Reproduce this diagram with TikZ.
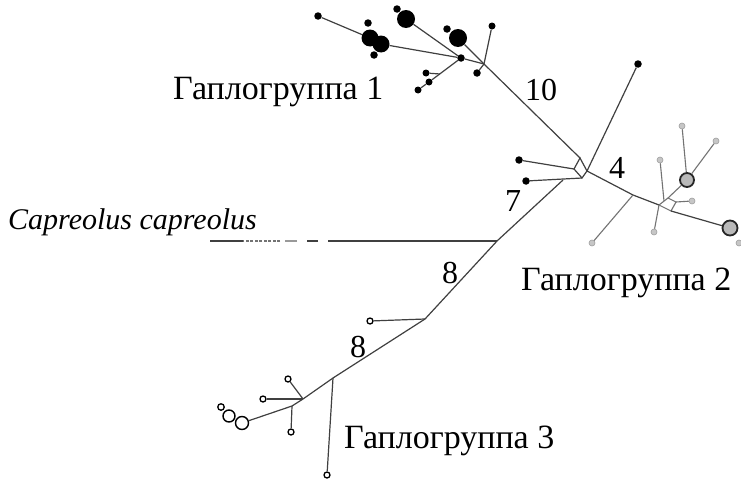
\documentclass[tikz,border=0pt]{standalone}
\usepackage{fontspec}
\setmainfont{Liberation Serif}
\begin{document}
\begin{tikzpicture}[x=1pt,y=-1pt,
  ln/.style={draw=black!75,line width=1.2pt},
  lng/.style={draw=black!55,line width=1.1pt},
  bd/.style={circle,fill=black,inner sep=0pt,minimum size=7.5pt},
  bD/.style={circle,fill=black,inner sep=0pt,minimum size=17pt},
  gd/.style={circle,fill=gray!45,draw=gray!75,line width=0.6pt,inner sep=0pt,minimum size=6pt},
  gD/.style={circle,fill=gray!55,draw=black!85,line width=1.8pt,inner sep=0pt,minimum size=14pt},
  wd/.style={circle,fill=white,draw=black,line width=1.3pt,inner sep=0pt,minimum size=6pt},
  wD/.style={circle,fill=white,draw=black,line width=1.4pt,inner sep=0pt,minimum size=12pt},
  lbl/.style={anchor=base west,inner sep=0pt,font=\fontsize{34}{36}\selectfont},
  lblc/.style={anchor=base west,inner sep=0pt,font=\fontsize{30}{32}\selectfont\itshape},
  num/.style={anchor=base,inner sep=0pt,font=\fontsize{32}{34}\selectfont}]
\useasboundingbox[fill=white] (0,0) rectangle (741,479);

% ---------- Haplogroup 1 ----------
\coordinate (jm) at (484,64);
\coordinate (jb) at (440,74);
\node[bd] (a1) at (318,16) {};
\node[bD] (a2) at (370,38) {};
\node[bD] (a3) at (381,44) {};
\node[bd] (a4) at (368,23) {};
\node[bd] (a5) at (374,55) {};
\node[bD,minimum size=18pt] (a6) at (406,19) {};
\node[bd] (a7) at (397,9) {};
\node[bD,minimum size=18pt] (a8) at (458,38) {};
\node[bd] (a9) at (447,29) {};
\node[bd] (h1) at (461,58) {};
\node[bd,minimum size=7pt] (a10) at (492,26) {};
\node[bd] (a11) at (477,73) {};
\node[bd,minimum size=7pt] (a12) at (426,73) {};
\node[bd,minimum size=7pt] (a13) at (429,82) {};
\node[bd,minimum size=7pt] (a14) at (418,90) {};

\draw[ln] (a1) -- (a2);
\draw[ln] (a3) -- (h1);
\draw[ln] (a6) -- (h1);
\draw[ln] (h1) -- (jm);
\draw[ln] (a10) -- (jm);
\draw[ln] (a11) -- (jm);
\draw[ln] (h1) -- (a13);
\draw[ln] (jb) -- (a12);
\draw[ln] (a13) -- (a14);

% ---------- central diamond ----------
\coordinate (dT) at (580,158);
\coordinate (dL) at (574,169);
\coordinate (dB) at (582,178);
\coordinate (dR) at (587,171);
\draw[ln] (dT) -- (dL) -- (dB) -- (dR) -- cycle;
\draw[ln] (a8) -- (jm) -- (dT);
\node[bd] (b1) at (638,64) {};
\node[bd] (b2) at (519,160) {};
\node[bd] (b3) at (526,181) {};
\draw[ln] (dR) -- (b1);
\draw[ln] (b2) -- (dL);
\draw[ln] (b3) -- (dB);

% ---------- Haplogroup 2 ----------
\coordinate (eL) at (659,205);
\coordinate (eT) at (668,198);
\coordinate (eR) at (676,202);
\coordinate (eB) at (671,211);
\coordinate (eK) at (664,201);
\coordinate (j4) at (633,195);
\draw[lng] (eL) -- (eT) -- (eR) -- (eB) -- cycle;
\draw[ln] (dR) -- (j4) -- (eL);
\node[gd] (b4) at (592,243) {};
\node[gD] (c1) at (687,180) {};
\node[gD,minimum size=15pt] (c2) at (730,228) {};
\node[gd] (b5) at (692,201) {};
\node[gd] (b6) at (716,141) {};
\node[gd] (b7) at (682,126) {};
\node[gd] (b8) at (660,160) {};
\node[gd] (b9) at (654,232) {};
\node[gd] (b10) at (739,243) {};
\draw[lng] (j4) -- (b4);
\draw[lng] (eT) -- (c1);
\draw[lng] (c1) -- (b6);
\draw[lng] (c1) -- (b7);
\draw[lng] (eR) -- (b5);
\draw[lng] (eK) -- (b8);
\draw[lng] (eL) -- (b9);
\draw[ln] (eB) -- (c2);

% ---------- trunk & Haplogroup 3 ----------
\coordinate (t0) at (563,180);
\coordinate (t1) at (497,241);
\coordinate (t3) at (425,319);
\coordinate (t4) at (333,378);
\coordinate (t5) at (303,399);
\coordinate (t6) at (292,406);
\node[wd] (w1) at (370,321) {};
\node[wd] (w2) at (327,475) {};
\node[wd] (w3) at (288,379) {};
\node[wd] (w4) at (263,399) {};
\node[wd] (w5) at (291,432) {};
\node[wD,minimum size=13pt] (w6) at (242,423) {};
\node[wD] (w7) at (229,416) {};
\node[wd,minimum size=6.5pt] (w8) at (221,407) {};
\draw[ln] (t0) -- (t1) -- (t3) -- (t4) -- (t5) -- (t6) -- (w6);
\draw[ln] (t3) -- (w1);
\draw[ln] (t4) -- (w2);
\draw[ln] (t5) -- (w3);
\draw[ln] (t5) -- (w4);
\draw[ln] (t6) -- (w5);

% ---------- Capreolus branch ----------
\coordinate (k1) at (328,241);
\coordinate (k2) at (318,241);
\coordinate (k3) at (307,241);
\coordinate (k4) at (297,241);
\coordinate (k5) at (285,241);
\coordinate (k6) at (280,241);
\coordinate (k7) at (243,241);
\coordinate (k8) at (210,241);
\draw[ln] (t1) -- (k1);
\draw[ln] (k2) -- (k3);
\draw[lng,draw=black!40] (k4) -- (k5);
\draw[lng,dash pattern=on 3pt off 1.5pt] (k6) -- (k7);
\draw[ln] (k7) -- (k8);

% ---------- labels ----------
\node[lbl] (L1) at (173,99) {Гаплогруппа 1};
\node[lbl] (L2) at (521,290) {Гаплогруппа 2};
\node[lbl] (L3) at (344,448) {Гаплогруппа 3};
\node[lblc] (Lc) at (8,229) {Capreolus capreolus};
\node[num] (n10) at (541,100) {10};
\node[num] (n4) at (617,178) {4};
\node[num] (n7) at (513,211) {7};
\node[num] (n8a) at (450,283) {8};
\node[num] (n8b) at (358,357) {8};
\end{tikzpicture}
\end{document}
